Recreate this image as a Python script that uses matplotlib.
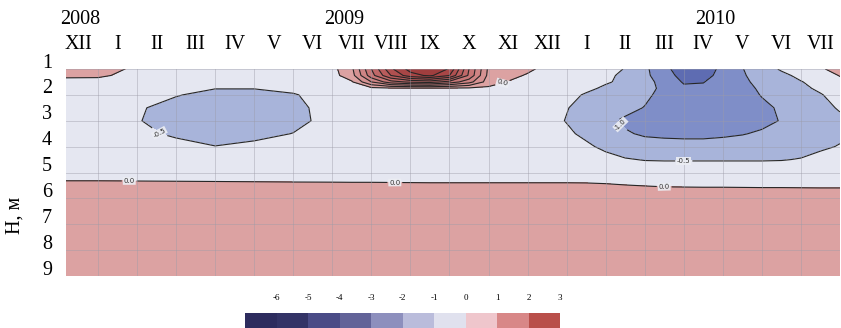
import matplotlib
matplotlib.use('Agg')
import matplotlib.pyplot as plt
import numpy as np
from matplotlib.colors import ListedColormap, BoundaryNorm
import matplotlib.cm as cm

plt.rcParams['font.family'] = ['Liberation Serif', 'DejaVu Serif']
plt.rcParams['axes.unicode_minus'] = False
plt.rcParams['contour.negative_linestyle'] = 'solid'

# ---------------- data ----------------
months = ['XII', 'I', 'II', 'III', 'IV', 'V', 'VI', 'VII', 'VIII', 'IX', 'X', 'XI',
          'XII', 'I', 'II', 'III', 'IV', 'V', 'VI', 'VII']
years = ['2008', '2009', '2010']
year_pos = [0.55, 7.3, 16.8]
depth_ticks = [1, 2, 3, 4, 5, 6, 7, 8, 9]

# time in months from 1 Dec 2008
time_grid = [0, 1, 2, 3, 4, 5, 6, 7, 7.5, 8, 8.5, 9, 9.5, 10, 10.5, 11, 11.5, 12,
             12.5, 13, 13.5, 14, 14.5, 15, 15.5, 16, 16.5, 17, 17.5, 18, 18.5, 19, 19.5, 20]
depth_grid = [1.0, 1.25, 1.5, 1.75, 2.0, 2.5, 3.0, 3.5, 4.0, 4.5, 5.0, 5.5, 6.0, 9.0]

h100 = [0.35, 0.45, -0.2, -0.2, -0.2, -0.2, -0.2, -0.15, 0.4, 2.0, 3.4, 4.2, 4.4, 3.95, 2.0, 0.4, 0.25, 0.1,
        -0.15, -0.2, -0.25, -0.35, -0.52, -0.9, -1.35, -1.8, -1.8, -1.35, -1.02, -0.7, -0.45, -0.3, -0.1, 0.3]
h125 = [0.12, 0.1, -0.2, -0.2, -0.2, -0.2, -0.2, -0.18, 0.3, 1.8, 3.0, 3.8, 4.1, 3.5, 1.9, 0.35, 0.15, -0.05,
        -0.2, -0.22, -0.28, -0.4, -0.6, -0.9, -1.25, -1.7, -1.7, -1.3, -1.05, -0.8, -0.6, -0.4, -0.2, 0.02]
h150 = [-0.2, -0.2, -0.2, -0.2, -0.3, -0.3, -0.22, -0.2, -0.05, 1.0, 1.8, 2.1, 2.2, 1.8, 1.2, 0.25, -0.02, -0.2,
        -0.2, -0.22, -0.3, -0.45, -0.6, -0.85, -1.15, -1.55, -1.52, -1.25, -1.1, -0.85, -0.7, -0.52, -0.35, -0.1]
h175 = [-0.2, -0.2, -0.2, -0.3, -0.48, -0.48, -0.35, -0.2, -0.2, -0.15, -0.1, -0.1, -0.1, -0.1, -0.1, -0.1, -0.2, -0.2,
        -0.2, -0.25, -0.4, -0.58, -0.7, -0.85, -1.1, -1.4, -1.4, -1.2, -1.1, -0.95, -0.8, -0.6, -0.42, -0.22]
h200 = [-0.2, -0.2, -0.25, -0.45, -0.75, -0.75, -0.55, -0.2, -0.2, -0.2, -0.2, -0.2, -0.2, -0.2, -0.2, -0.2, -0.2, -0.2,
        -0.22, -0.35, -0.55, -0.7, -0.8, -0.9, -1.15, -1.3, -1.3, -1.2, -1.15, -0.98, -0.85, -0.7, -0.53, -0.32]
h250 = [-0.2, -0.2, -0.4, -0.8, -0.9, -0.9, -0.7, -0.2, -0.2, -0.2, -0.2, -0.2, -0.2, -0.2, -0.2, -0.2, -0.2, -0.2,
        -0.3, -0.48, -0.65, -0.75, -0.85, -1.02, -1.2, -1.3, -1.3, -1.25, -1.2, -1.08, -0.95, -0.8, -0.65, -0.45]
h300 = [-0.2, -0.2, -0.45, -0.85, -0.95, -0.95, -0.75, -0.2, -0.2, -0.2, -0.2, -0.2, -0.2, -0.2, -0.2, -0.2, -0.2, -0.25,
        -0.35, -0.52, -0.7, -0.9, -1.08, -1.2, -1.25, -1.25, -1.25, -1.25, -1.2, -1.1, -0.98, -0.85, -0.7, -0.6]
h350 = [-0.2, -0.2, -0.35, -0.6, -0.85, -0.75, -0.48, -0.2, -0.2, -0.2, -0.2, -0.2, -0.2, -0.2, -0.2, -0.2, -0.2, -0.22,
        -0.3, -0.42, -0.6, -0.8, -0.95, -1.06, -1.08, -1.08, -1.08, -1.06, -1.02, -0.95, -0.85, -0.78, -0.7, -0.6]
h400 = [-0.2, -0.2, -0.22, -0.3, -0.48, -0.3, -0.25, -0.2, -0.2, -0.2, -0.2, -0.2, -0.2, -0.2, -0.2, -0.2, -0.2, -0.2,
        -0.25, -0.3, -0.42, -0.6, -0.72, -0.8, -0.85, -0.88, -0.88, -0.85, -0.82, -0.78, -0.72, -0.65, -0.58, -0.47]
h450 = [-0.22, -0.22, -0.22, -0.22, -0.22, -0.22, -0.22, -0.22, -0.22, -0.22, -0.22, -0.22, -0.22, -0.22, -0.22, -0.22, -0.22, -0.22,
        -0.2, -0.22, -0.25, -0.35, -0.47, -0.52, -0.53, -0.53, -0.53, -0.53, -0.53, -0.53, -0.52, -0.48, -0.35, -0.3]
h500 = [-0.25] * 34
h550 = [0.14, 0.14, 0.13, 0.12, 0.11, 0.10, 0.09, 0.085, 0.08, 0.08, 0.075, 0.07, 0.065, 0.065, 0.065, 0.065, 0.065, 0.065,
        0.065, 0.065, 0.06, 0.04, 0.01, -0.01, -0.03, -0.035, -0.04, -0.04, -0.045, -0.05, -0.05, -0.055, -0.06, -0.06]
h600 = [0.25] * 34
h900 = [0.25] * 34
anomaly = [h100, h125, h150, h175, h200, h250, h300, h350, h400, h450, h500, h550, h600, h900]

levels = [-2.0, -1.5, -1.0, -0.5, 0.0, 0.5, 1.0, 1.5, 2.0, 2.5, 3.0, 3.5, 4.0, 4.5]
fill_colors = ['#5e6cb2', '#7f8ec8', '#a8b4da', '#e5e7f1', '#dca2a2', '#d59292', '#ce8484',
               '#c77676', '#c06868', '#b85c5c', '#b05050', '#a84646', '#a03e3e']

label_levels = [-1.0, -0.5, 0.0]
other_levels = [-1.5, 0.5, 1.0, 1.5, 2.0, 2.5, 3.0, 3.5, 4.0]
label_pos = [(1.8, 5.3), (8.6, 5.37), (15.5, 5.5), (11.36, 1.55),
             (2.6, 3.4), (16.0, 4.53), (14.4, 3.1)]

cbar_ticks = [-6, -5, -4, -3, -2, -1, 0, 1, 2, 3]
cbar_bounds = [-7, -6, -5, -4, -3, -2, -1, 0, 1, 2, 3]
cbar_colors = ['#2d2c5e', '#333366', '#4a4b86', '#626398', '#8d8fbd', '#babcdb',
               '#e0e1ee', '#efc6cc', '#d88787', '#b94f4a']

# ---------------- figure ----------------
W, H = 841, 328
fig = plt.figure(figsize=(W / 100, H / 100), dpi=100)
ax = fig.add_axes([66 / W, 1 - 276 / H, (840 - 66) / W, 207 / H])

X, Y = np.meshgrid(time_grid, depth_grid)
Z = np.array(anomaly)
cmap = ListedColormap(fill_colors)
norm = BoundaryNorm(levels, cmap.N)
ax.contourf(X, Y, Z, levels=levels, cmap=cmap, norm=norm)
ax.contour(X, Y, Z, levels=other_levels, colors='#262626', linewidths=0.8,
           linestyles='solid')
cs = ax.contour(X, Y, Z, levels=label_levels, colors='#262626', linewidths=0.8,
                linestyles='solid')
texts = ax.clabel(cs, manual=label_pos, fmt='%.1f',
                  fontsize=5, inline=True, inline_spacing=3)
for t in texts:
    t.set_family('DejaVu Sans')
    t.set_color('#333333')
    t.set_bbox(dict(facecolor='#eceef4', edgecolor='none', pad=0.6, alpha=0.9))

ax.set_xlim(0.18, 20)
ax.set_ylim(9, 1)
ax.set_xticks(range(1, 20))
ax.set_yticks(depth_ticks)
ax.set_xticklabels([])
ax.set_yticklabels([])
ax.tick_params(length=0)
ax.set_axisbelow(False)
ax.grid(True, color='#9c9ca8', linewidth=0.6, alpha=0.5)
for s in ax.spines.values():
    s.set_visible(False)

xtr = ax.get_xaxis_transform()
for i, m in enumerate(months):
    ax.text(i + 0.5, 1.116, m, transform=xtr, ha='center', va='center', fontsize=14.5)
for y, p in zip(years, year_pos):
    ax.text(p, 1.237, y, transform=xtr, ha='center', va='center', fontsize=14.5)
for d in depth_ticks:
    ax.annotate(str(d), xy=(0, d), xycoords=('axes fraction', 'data'),
                xytext=(-10, 4.3), textcoords='offset points',
                ha='right', va='center', fontsize=14.5)

fig.text(15 / W, 1 - 215 / H, 'Н, м', rotation=90, ha='center', va='center', fontsize=14.5)

# colour scale
cax = fig.add_axes([245 / W, 0, 315 / W, 15 / H])
sm = cm.ScalarMappable(norm=BoundaryNorm(cbar_bounds, len(cbar_colors)),
                       cmap=ListedColormap(cbar_colors))
cb = fig.colorbar(sm, cax=cax, orientation='horizontal', ticks=cbar_ticks)
cb.outline.set_visible(False)
for s in cax.spines.values():
    s.set_visible(False)
cax.minorticks_off()
cax.xaxis.set_ticks_position('top')
cax.tick_params(which='both', length=0, labelsize=6.5, pad=8)
cax.tick_params(axis='y', left=False, right=False, labelleft=False, labelright=False)

fig.savefig('out.png', dpi=100)
